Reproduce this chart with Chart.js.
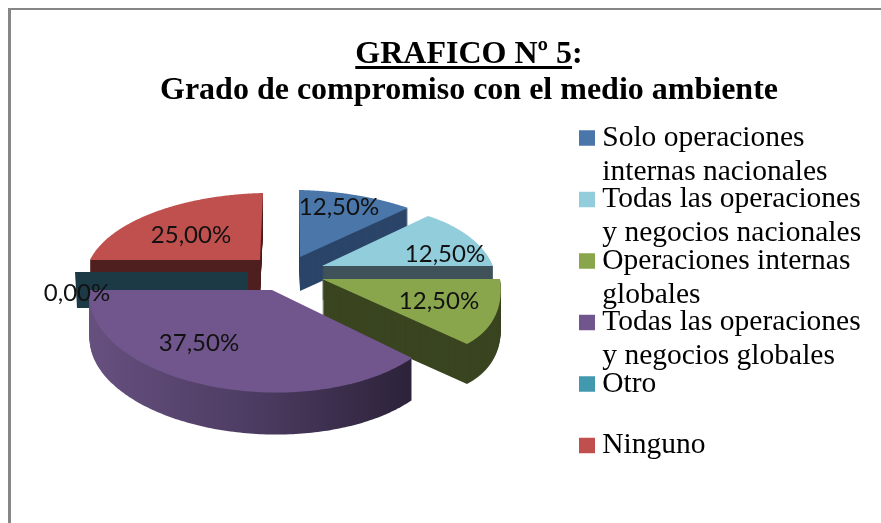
<!DOCTYPE html>
<html><head><meta charset="utf-8">
<style>html,body{margin:0;padding:0;background:#fff}canvas{display:block}</style>
<script src="https://cdn.jsdelivr.net/npm/chart.js@4"></script>
</head><body><canvas id="c" width="881" height="523"></canvas>
<script>
const categories = ['Solo operaciones internas nacionales','Todas las operaciones y negocios nacionales','Operaciones internas globales','Todas las operaciones y negocios globales','Otro','Ninguno'];
const legendLines = [['Solo operaciones','internas nacionales'],['Todas las operaciones','y negocios nacionales'],['Operaciones internas','globales'],['Todas las operaciones','y negocios globales'],['Otro',''],['Ninguno','']];
const values = [12.5,12.5,12.5,37.5,0,25];
const topColors = ['#4a76aa','#92cddc','#8aa64c','#70568d','#4198af','#c0504d'];
const sideColors = ['#2b4569','#3f525a','#3a4520','#4a3a5f','#1c3a46','#4f1f1f'];
const titleLines = ['GRAFICO Nº 5:','Grado de compromiso con el medio ambiente'];

// perspective layout: where each slice's apex and rim (start, mid, end) land on the page
const view = [
  {apex:[300,257],rim:[[299,190],[355,195],[408,208]],depth:34},
  {apex:[322,266],rim:[[428,216],[467,235],[493,266]],depth:34},
  {apex:[322,279],rim:[[500,279],[493,320],[467,344]],depth:40},
  {apex:[272,290],rim:[[412,358],[205,385],[90,290]],depth:42},
  {apex:[248,272],rim:[[75,272]],depth:36},
  {apex:[260,260],rim:[[90,260],[155,212],[263,193]],depth:36}
];
const drawOrder = [5,0,4,1,2,3];
const labelSpots = [[339,207],[445,254],[439,301],[199,343],[77,293],[191,235]];

function solveH(src,dst){
  const A=[];
  for(let i=0;i<4;i++){const [x,y]=src[i],[u,v]=dst[i];
    A.push([x,y,1,0,0,0,-u*x,-u*y,u]);A.push([0,0,0,x,y,1,-v*x,-v*y,v]);}
  for(let i=0;i<8;i++){let p=i;for(let r=i+1;r<8;r++)if(Math.abs(A[r][i])>Math.abs(A[p][i]))p=r;
    [A[i],A[p]]=[A[p],A[i]];
    for(let r=0;r<8;r++){if(r===i)continue;const f=A[r][i]/A[i][i];for(let c=i;c<9;c++)A[r][c]-=f*A[i][c];}}
  const h=A.map((row,i)=>row[8]/row[i]);
  return (x,y)=>{const w=h[6]*x+h[7]*y+1;return [(h[0]*x+h[1]*y+h[2])/w,(h[3]*x+h[4]*y+h[5])/w];};
}
function projected(ctx,map,dy,fill){
  const pt=(x,y)=>{const p=map(x,y);return [p[0],p[1]+dy];};
  return new Proxy(ctx,{
    get(t,k){
      if(k==='arc')return (x,y,r,a0,a1)=>{const n=72;for(let i=0;i<=n;i++){const a=a0+(a1-a0)*i/n;const p=pt(x+r*Math.cos(a),y+r*Math.sin(a));t.lineTo(p[0],p[1]);}};
      if(k==='lineTo'||k==='moveTo')return (x,y)=>{const p=pt(x,y);t[k](p[0],p[1]);};
      const v=t[k];return typeof v==='function'?v.bind(t):v;
    },
    set(t,k,v){t[k]=(k==='fillStyle'&&fill)?fill:v;return true;}
  });
}
const perspectivePie={
  id:'perspectivePie',
  afterLayout(chart){
    const lg=chart.legend,tt=chart.titleBlock;
    const w=lg.width;lg.left=593;lg.right=593+w;lg.top=129.75;lg.bottom=523;
    lg.draw=function(){this._draw();};
    tt.left=58;tt.right=880;tt.top=36.5;tt.bottom=110;
  },
  beforeDraw(chart){
    const c=chart.ctx;c.save();c.fillStyle='#fff';c.fillRect(0,0,881,523);
    c.fillStyle='#868686';c.fillRect(8,8,873,2);c.fillRect(8,8,3,515);c.restore();
  },
  beforeDatasetDraw(chart){
    const c=chart.ctx,arcs=chart.getDatasetMeta(0).data;
    drawOrder.forEach(i=>{
      const a=arcs[i],v=view[i];
      if(values[i]===0){
        const p=v.apex,q=v.rim[0];
        c.save();c.fillStyle=sideColors[i];c.beginPath();c.moveTo(p[0],p[1]);c.lineTo(q[0],q[1]);
        c.lineTo(q[0]+2,q[1]+v.depth);c.lineTo(p[0],p[1]+v.depth);c.closePath();c.fill();c.restore();
        return;
      }
      const s=a.startAngle,e=a.endAngle,m=(s+e)/2,R=a.outerRadius,P=t=>[a.x+R*Math.cos(t),a.y+R*Math.sin(t)];
      const map=solveH([[a.x,a.y],P(s),P(m),P(e)],[v.apex,v.rim[0],v.rim[1],v.rim[2]]);
      let side=sideColors[i];
      if(i===3){const g=c.createLinearGradient(90,0,412,0);g.addColorStop(0,'#66507f');g.addColorStop(.55,'#4a3a5f');g.addColorStop(1,'#2c2239');side=g;}
      for(let d=v.depth;d>=1;d--)a.draw(projected(c,map,d,side));
      a.draw(projected(c,map,0,null));
    });
    return false;
  },
  afterDraw(chart){
    const c=chart.ctx,tt=chart.titleBlock;
    c.save();
    c.font='24px Lato';c.fillStyle='#111';c.textAlign='center';c.textBaseline='middle';
    values.forEach((v,i)=>c.fillText(v.toFixed(2).replace('.',',')+'%',labelSpots[i][0],labelSpots[i][1]));
    c.font='bold 32px "Liberation Serif"';
    const full=c.measureText(titleLines[0]).width,part=c.measureText(titleLines[0].slice(0,-1)).width;
    const x0=(tt.left+tt.right)/2-full/2;
    c.fillStyle='#000';c.fillRect(x0,66,part,3);
    c.restore();
  }
};
new Chart(document.getElementById('c'),{
  type:'pie',
  data:{labels:categories,datasets:[{data:values,backgroundColor:topColors,borderWidth:0}]},
  plugins:[perspectivePie],
  options:{
    responsive:false,animation:false,
    plugins:{
      tooltip:{enabled:false},
      title:{display:true,text:titleLines,color:'#000',padding:0,font:{family:'"Liberation Serif"',size:32,weight:'bold',lineHeight:36/32}},
      legend:{position:'right',align:'start',
        labels:{color:'#000',padding:-6.5,boxWidth:1,boxHeight:0.5,font:{family:'"Liberation Serif"',size:29.5,lineHeight:34/29.5},
          generateLabels:()=>legendLines.map((t,i)=>({text:t,fillStyle:topColors[i],strokeStyle:topColors[i],lineWidth:15,datasetIndex:0,index:i,hidden:false}))}}
    }
  }
});
</script></body></html>
